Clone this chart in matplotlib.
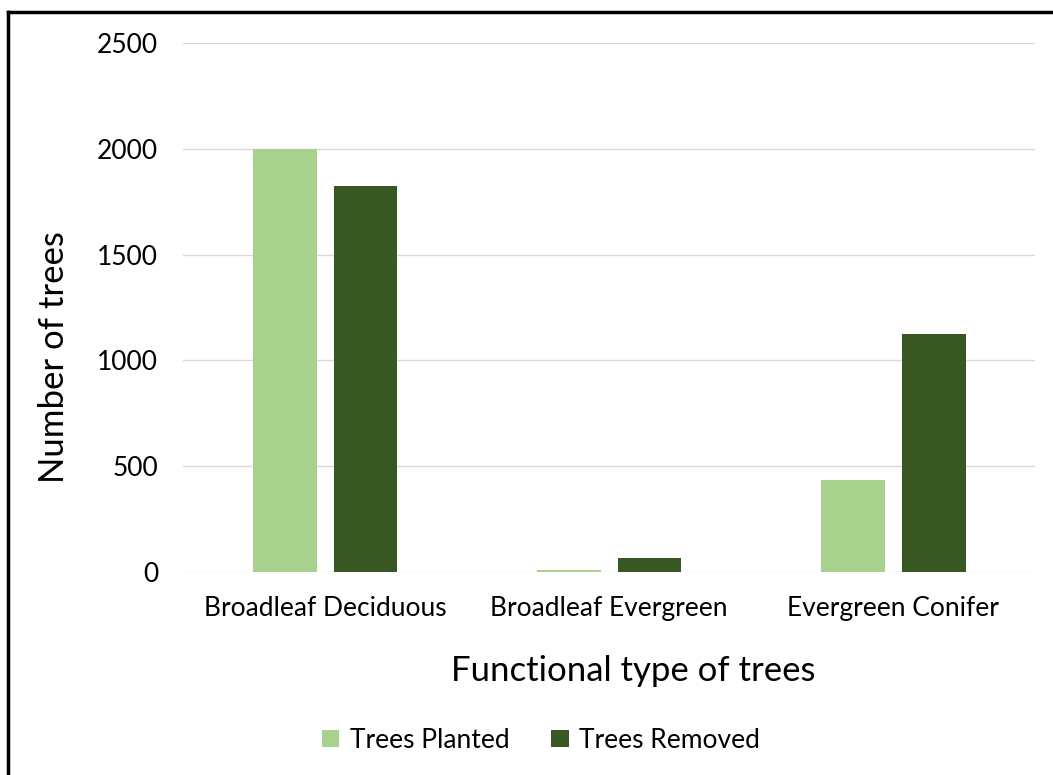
import matplotlib.pyplot as plt
import numpy as np
from matplotlib.lines import Line2D

# data
categories = ["Broadleaf Deciduous", "Broadleaf Evergreen", "Evergreen Conifer"]
trees_planted = [2000, 10, 435]
trees_removed = [1825, 65, 1125]
yticks = [0, 500, 1000, 1500, 2000, 2500]

plt.rcParams['font.family'] = ['Lato', 'DejaVu Sans']

fig = plt.figure(figsize=(10.53, 7.75), dpi=100)
ax = fig.add_axes([0.1738, 0.2619, 0.8092, 0.6826])

x = np.arange(len(categories))
w = 0.225
gap = 0.06
ax.bar(x - (w + gap) / 2, trees_planted, w, color='#A9D18E', label='Trees Planted', zorder=3)
ax.bar(x + (w + gap) / 2, trees_removed, w, color='#385723', label='Trees Removed', zorder=3)

ax.set_xlim(-0.5, 2.5)
ax.set_ylim(0, 2500)
ax.set_yticks(yticks)
ax.set_xticks(x)
ax.set_xticklabels(categories, fontsize=19)
ax.tick_params(axis='y', labelsize=19, length=0, pad=18, colors='#000000')
ax.tick_params(axis='x', length=0, pad=17)
ax.grid(axis='y', color='#D9D9D9', linewidth=1, zorder=0)
for s in ax.spines.values():
    s.set_visible(False)

ax.set_ylabel('Number of trees', fontsize=25)
ax.yaxis.set_label_coords(-0.151, 0.406)
ax.yaxis.label.set_va('center')
ax.set_xlabel('Functional type of trees', fontsize=25)
ax.xaxis.set_label_coords(0.528, -0.187)
ax.xaxis.label.set_va('center')

ax.legend(loc='center', bbox_to_anchor=(0.42, -0.318), ncol=2, frameon=False,
          fontsize=19, handlelength=0.65, handleheight=0.65, columnspacing=1.6,
          handletextpad=0.4)

# frame line on top and left like the clipped screenshot
fig.add_artist(Line2D([0.0076, 1.0], [0.9845, 0.9845], color='black', lw=2.5))
fig.add_artist(Line2D([0.0076, 0.0076], [0.0, 0.9845], color='black', lw=2.5))

fig.savefig('out.png', dpi=100)
